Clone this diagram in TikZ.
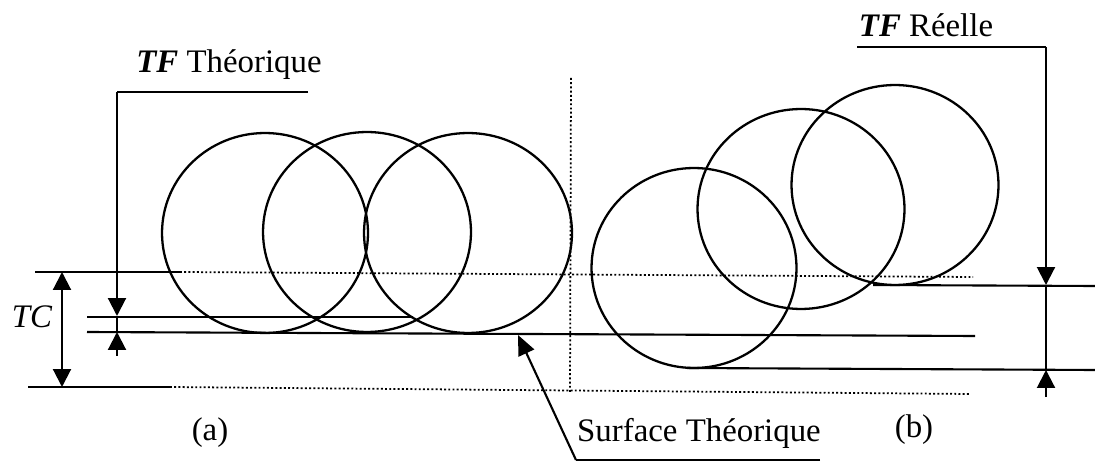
\documentclass[tikz,border=0pt]{standalone}
\usepackage{fontspec}
\setmainfont{Liberation Serif}
\usetikzlibrary{arrows.meta}

\tikzset{
  dotline/.style={line width=1pt, dash pattern=on 1.1pt off 1.3pt},
  grain/.style={line width=1.3pt},
  label/.style={font=\fontsize{18.7}{22}\selectfont, inner sep=0pt}
}

\begin{document}
\begin{tikzpicture}[x=0.02cm, y=-0.02cm, line width=1.2pt, >={Triangle[length=3.6mm, width=3.6mm]}]

\useasboundingbox (0,0) rectangle (1095,462);

% Reference lines (a)
\draw (35,272) -- (180,272);
\draw[dotline] (180,272) -- (973,277);
\draw (28,387) -- (170,387);
\draw[dotline] (170,387) -- (970,394);
\draw (87,317) -- (413,317);
\draw (87,332) -- (975,336);

% Separation
\draw[dotline] (571,78) -- (570,393);

% Reference lines (b)
\draw (873,285) -- (1095,286);
\draw (687,368) -- (1095,370);

% Grains (a)
\draw[grain] (265,233) ellipse [x radius=2.06cm, y radius=2cm];
\draw[grain] (367,232) ellipse [x radius=2.08cm, y radius=2cm];
\draw[grain] (468,233) ellipse [x radius=2.08cm, y radius=2cm];

% Grains (b)
\draw[grain] (694,268) ellipse [x radius=2.05cm, y radius=2cm];
\draw[grain] (801,209) ellipse [x radius=2.07cm, y radius=2cm];
\draw[grain] (895,185) ellipse [x radius=2.07cm, y radius=2cm];

% Labels
\node[label] (tfTheo) at (229,65) {\textbf{\textit{TF}} Théorique};
\node[label] (tfReel) at (926,25) {\textbf{\textit{TF}} Réelle};
\node[label] (tc) at (32,317) {\textit{TC}};
\node[label] (capA) at (210,433) {(a)};
\node[label] (capB) at (914,430) {(b)};
\node[label] (surf) at (699,433) {Surface Théorique};

% TC dimension
\coordinate (tcTop) at (62,272);
\coordinate (tcBot) at (62,387);
\draw[<->] (tcTop) -- (tcBot);

% TF theorique leader
\coordinate (theoEnd) at (308,92);
\coordinate (theoCorner) at (117,92);
\coordinate (theoTip) at (117,316);
\coordinate (theoLow) at (117,332);
\coordinate (theoTail) at (117,356);
\draw (theoEnd) -- (theoCorner);
\draw[->] (theoCorner) -- (theoTip);
\draw (theoTip) -- (theoLow);
\draw[->] (theoTail) -- (theoLow);

% TF reelle leader
\coordinate (reelEnd) at (857,47);
\coordinate (reelCorner) at (1046,47);
\coordinate (reelTip) at (1046,285);
\coordinate (reelLow) at (1046,370);
\coordinate (reelTail) at (1046,397);
\draw (reelEnd) -- (reelCorner);
\draw[->] (reelCorner) -- (reelTip);
\draw (reelTip) -- (reelLow);
\draw[->] (reelTail) -- (reelLow);

% Surface theorique leader
\coordinate (surfL) at (576,460);
\coordinate (surfR) at (820,460);
\coordinate (surfTip) at (518,335);
\draw (surfR) -- (surfL);
\draw[->, >={Triangle[length=4mm, width=3.4mm]}] (surfL) -- (surfTip);

\end{tikzpicture}
\end{document}
